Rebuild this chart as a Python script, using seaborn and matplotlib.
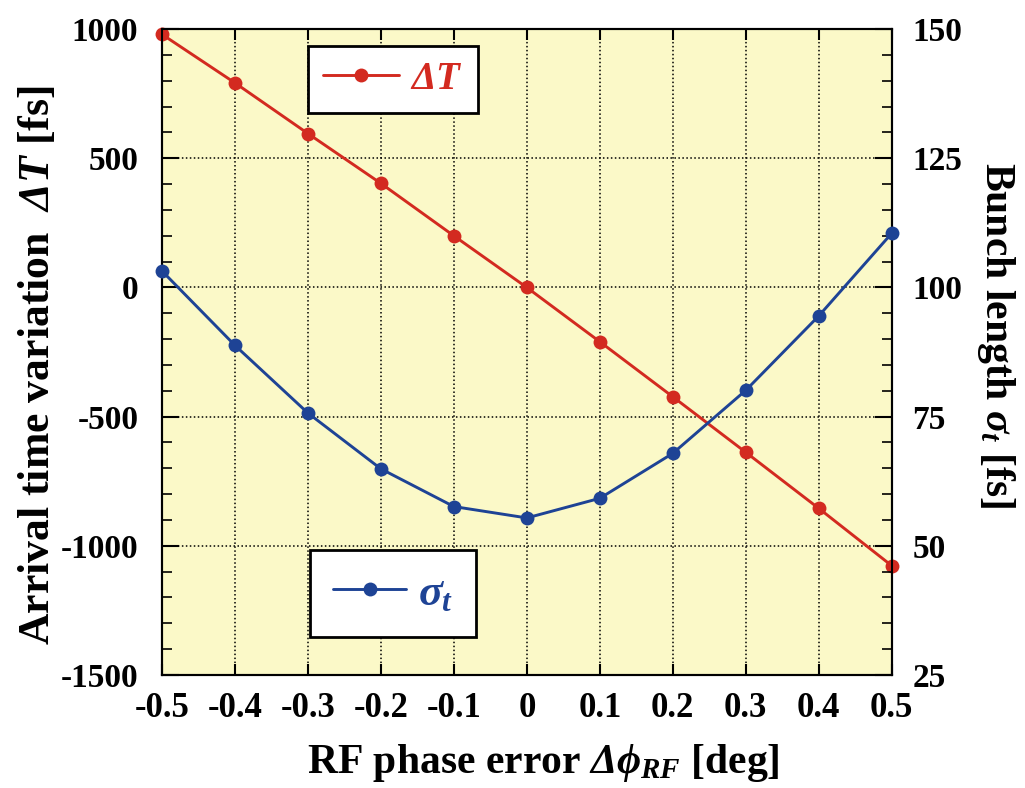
import matplotlib
matplotlib.use("Agg")
import matplotlib.pyplot as plt
import seaborn as sns
from matplotlib.ticker import MultipleLocator, FixedLocator, FixedFormatter

# RF phase error [deg]
phase_err = [-0.5, -0.4, -0.3, -0.2, -0.1, 0.0, 0.1, 0.2, 0.3, 0.4, 0.5]
# Arrival time variation ΔT [fs]
arrival_dt = [980, 792, 596, 403, 200, 0, -210, -423, -638, -855, -1077]
# Bunch length σt [fs]
bunch_len = [103.2, 88.8, 75.7, 64.9, 57.6, 55.4, 59.2, 67.9, 80.1, 94.5, 110.5]

x_ticks = [-0.5, -0.4, -0.3, -0.2, -0.1, 0.0, 0.1, 0.2, 0.3, 0.4, 0.5]
x_tick_labels = ["-0.5", "-0.4", "-0.3", "-0.2", "-0.1", "0", "0.1", "0.2", "0.3", "0.4", "0.5"]
left_ticks = [-1500, -1000, -500, 0, 500, 1000]
left_tick_labels = ["-1500", "-1000", "-500", "0", "500", "1000"]
right_ticks = [25, 50, 75, 100, 125, 150]
right_tick_labels = ["25", "50", "75", "100", "125", "150"]

RED = "#D32A20"
BLUE = "#1E4395"
BG = "#FBF9C8"

sns.set_style("ticks")
plt.rcParams["font.family"] = ["Liberation Serif", "DejaVu Serif"]
plt.rcParams["font.weight"] = "bold"
plt.rcParams["axes.labelweight"] = "bold"
plt.rcParams["text.color"] = "black"
plt.rcParams["axes.labelcolor"] = "black"
plt.rcParams["xtick.color"] = "black"
plt.rcParams["ytick.color"] = "black"
# math symbols are all set in bold italic serif (including capital Greek)
plt.rcParams["mathtext.fontset"] = "custom"
plt.rcParams["mathtext.rm"] = "Liberation Serif:italic:bold"
plt.rcParams["mathtext.it"] = "Liberation Serif:italic:bold"
plt.rcParams["mathtext.bf"] = "Liberation Serif:bold"

fig = plt.figure(figsize=(10.25, 7.88), dpi=100)
ax = fig.add_axes([0.158, 0.1434, 0.712, 0.8196])
ax.set_facecolor(BG)
ax2 = ax.twinx()

sns.lineplot(x=phase_err, y=arrival_dt, ax=ax, color=RED, marker="o",
             markersize=10, markeredgewidth=0, linewidth=2.1, label=r"$ΔT$",
             clip_on=False, zorder=5)
sns.lineplot(x=phase_err, y=bunch_len, ax=ax2, color=BLUE, marker="o",
             markersize=10, markeredgewidth=0, linewidth=2.1, label=r"$σ_t$",
             clip_on=False, zorder=5)

ax.set_xlim(-0.5, 0.5)
ax.set_ylim(-1500, 1000)
ax2.set_ylim(25, 150)

ax.xaxis.set_major_locator(FixedLocator(x_ticks))
ax.xaxis.set_major_formatter(FixedFormatter(x_tick_labels))
ax.yaxis.set_major_locator(FixedLocator(left_ticks))
ax.yaxis.set_major_formatter(FixedFormatter(left_tick_labels))
ax.yaxis.set_minor_locator(MultipleLocator(100))
ax2.yaxis.set_major_locator(FixedLocator(right_ticks))
ax2.yaxis.set_major_formatter(FixedFormatter(right_tick_labels))
ax2.yaxis.set_minor_locator(MultipleLocator(5))

ax.tick_params(axis="x", which="major", direction="in", top=True, bottom=True,
               length=8, width=1.5, labelsize=25, pad=12)
ax.tick_params(axis="y", which="major", direction="in", left=True, right=False,
               length=12, width=1.5, labelsize=24, pad=17)
ax.tick_params(axis="y", which="minor", direction="in", left=True, right=False,
               length=7, width=1.2)
ax2.tick_params(axis="y", which="major", direction="in", right=True, left=False,
                length=12, width=1.5, labelsize=24, pad=15)
ax2.tick_params(axis="y", which="minor", direction="in", right=True, left=False,
                length=7, width=1.2)

ax.grid(True, which="major", color="black", linestyle=(0, (1, 1.6)), linewidth=1.1)
ax2.grid(False)
for a in (ax, ax2):
    for s in a.spines.values():
        s.set_linewidth(1.5)
        s.set_color("black")

ax.set_xlabel(r"RF phase error $Δϕ_{RF}$ [deg]", fontsize=30, fontweight="bold")
ax.set_ylabel(r"Arrival time variation  $ΔT$ [fs]", fontsize=31.5, fontweight="bold")
ax2.set_ylabel(r"Bunch length $σ_t$ [fs]", fontsize=30, fontweight="bold",
               rotation=270, va="bottom")
ax.xaxis.set_label_coords(0.522, -0.104)
ax.yaxis.set_label_coords(-0.142, 0.48)
ax2.yaxis.set_label_coords(1.114, 0.526)

leg1 = ax.legend(loc="center", bbox_to_anchor=(0.3834, 0.899), bbox_transform=fig.transFigure,
                 frameon=True, fancybox=False, edgecolor="black", framealpha=1,
                 fontsize=28, handlelength=1.95, borderpad=0.38, handletextpad=0.3,
                 borderaxespad=0)
leg1.get_frame().set_linewidth(2)
for t in leg1.get_texts():
    t.set_color(RED)
leg2 = ax2.legend(loc="center", bbox_to_anchor=(0.3834, 0.2468), bbox_transform=fig.transFigure,
                  frameon=True, fancybox=False, edgecolor="black", framealpha=1,
                  fontsize=32, handlelength=1.65, borderpad=0.52, handletextpad=0.25,
                  borderaxespad=0)
leg2.get_frame().set_linewidth(2)
for t in leg2.get_texts():
    t.set_color(BLUE)

fig.savefig("out.png", dpi=100, facecolor="white")
